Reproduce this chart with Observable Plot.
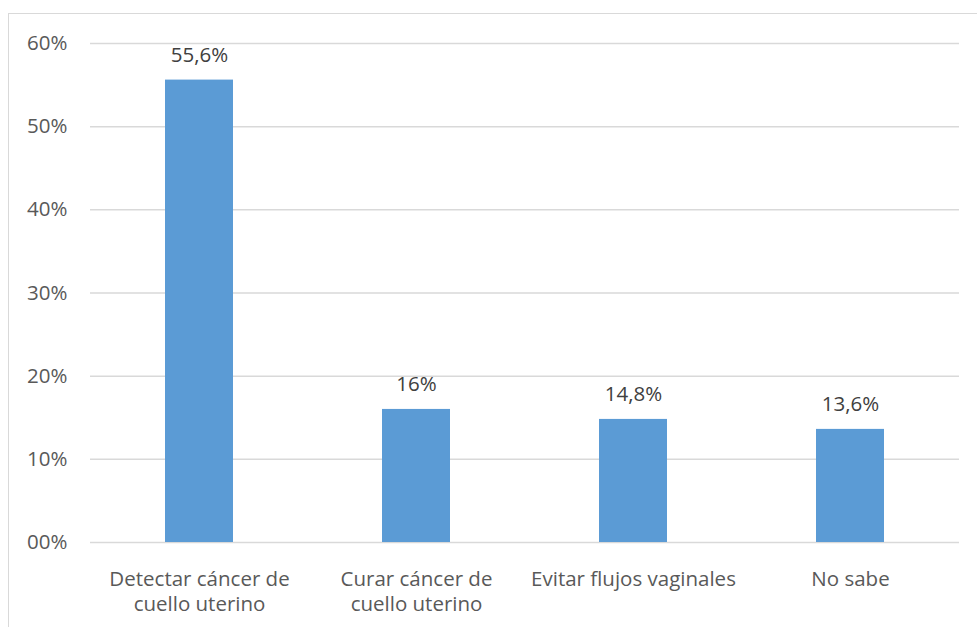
<!DOCTYPE html>
<html>
<head>
<meta charset="utf-8">
<script src="https://cdn.jsdelivr.net/npm/d3@7"></script>
<script src="https://cdn.jsdelivr.net/npm/@observablehq/plot@0.6"></script>
<style>
  html, body { margin: 0; padding: 0; background: #fff; }
  #wrap { position: relative; width: 977px; height: 627px; overflow: hidden; }
  #border { position: absolute; left: 8px; top: 13px; width: 990px; height: 640px; border: 1px solid #d9d9d9; box-sizing: border-box; }
  #chart { position: absolute; left: 0; top: 0; }
</style>
</head>
<body>
<div id="wrap"><div id="border"></div><div id="chart"></div></div>
<script>
const categories = ["Detectar cáncer de cuello uterino", "Curar cáncer de cuello uterino", "Evitar flujos vaginales", "No sabe"];
const tickLabels = ["Detectar cáncer de\ncuello uterino", "Curar cáncer de\ncuello uterino", "Evitar flujos vaginales", "No sabe"];
const values = [55.6, 16, 14.8, 13.6];
const valueLabels = ["55,6%", "16%", "14,8%", "13,6%"];
const yTicks = [0, 10, 20, 30, 40, 50, 60];
const yTickLabels = ["00%", "10%", "20%", "30%", "40%", "50%", "60%"];

const data = categories.map((c, i) => ({category: c, value: values[i], label: valueLabels[i]}));
const font = "'Open Sans', Lato, sans-serif";

const chart = Plot.plot({
  width: 977,
  height: 627,
  marginLeft: 90,
  marginRight: 18,
  marginTop: 43,
  marginBottom: 85,
  style: {fontFamily: font, fontSize: "20.5px", color: "#595959", background: "transparent"},
  x: {domain: categories, paddingInner: 0.6875, paddingOuter: 0.34375, align: 0.5},
  y: {domain: [0, 60]},
  marks: [
    Plot.gridY(yTicks, {stroke: "#d9d9d9", strokeOpacity: 1, strokeWidth: 1.5}),
    Plot.barY(data, {x: "category", y: "value", fill: "#5b9bd5"}),
    Plot.text(data, {x: "category", y: "value", text: "label", dy: -25, fill: "#404040", fontSize: 20.5, lineAnchor: "middle"}),
    Plot.axisY({ticks: yTicks, tickFormat: (d) => yTickLabels[yTicks.indexOf(d)], tickSize: 0, tickPadding: 23, label: null, fontSize: 20.5, fill: "#595959"}),
    Plot.axisX({tickFormat: d => tickLabels[categories.indexOf(d)], tickSize: 0, tickPadding: 25, label: null, fontSize: 20.5, fill: "#595959", lineHeight: 1.25, lineAnchor: "top"})
  ]
});
document.getElementById("chart").appendChild(chart);
</script>
</body>
</html>
